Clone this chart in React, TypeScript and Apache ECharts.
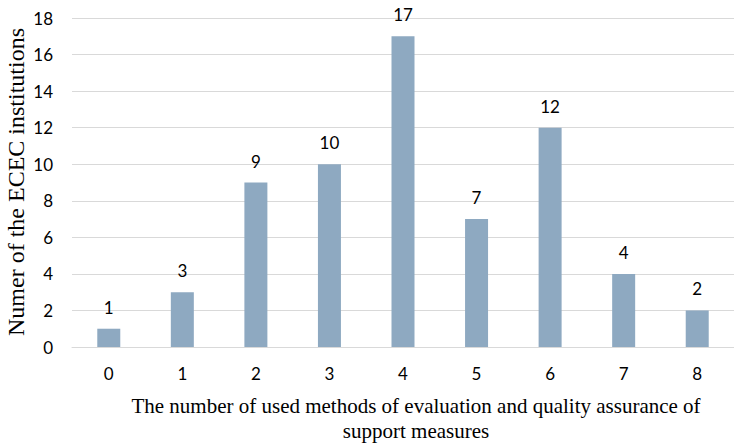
import React, { useEffect, useRef } from "react";
import * as echarts from "echarts";

const categories = ["0", "1", "2", "3", "4", "5", "6", "7", "8"];
const counts = [1, 3, 9, 10, 17, 7, 12, 4, 2];
const xTitleLines = [
  "The number of used methods of evaluation and quality assurance of",
  "support measures",
];
const yTitle = "Numer of the ECEC institutions";

export default function App() {
  const ref = useRef<HTMLDivElement>(null);
  useEffect(() => {
    if (!ref.current) return;
    const chart = echarts.init(ref.current, null, { renderer: "svg" });
    chart.setOption({
      animation: false,
      backgroundColor: "#ffffff",
      grid: { left: 72, top: 18, width: 669, height: 329, containLabel: false },
      xAxis: {
        type: "category",
        data: categories,
        axisLine: { show: true, lineStyle: { color: "#D9D9D9", width: 1 } },
        axisTick: { show: false },
        axisLabel: {
          color: "#000",
          fontFamily: "Lato",
          fontSize: 17,
          margin: 18,
        },
      },
      yAxis: {
        type: "value",
        min: 0,
        max: 18,
        interval: 2,
        axisLine: { show: false },
        axisTick: { show: false },
        axisLabel: {
          color: "#000",
          fontFamily: "Lato",
          fontSize: 17,
          margin: 19,
        },
        splitLine: { lineStyle: { color: "#D9D9D9", width: 1 } },
      },
      series: [
        {
          type: "bar",
          data: counts,
          barWidth: 23,
          itemStyle: { color: "#8EA9C1" },
          label: {
            show: true,
            position: "top",
            distance: 13,
            color: "#000",
            fontFamily: "Lato",
            fontSize: 17,
          },
        },
      ],
      graphic: [
        {
          type: "text",
          x: 416,
          y: 406,
          style: {
            text: xTitleLines[0],
            font: '21px "Liberation Serif"',
            fill: "#000",
            textAlign: "center",
            textVerticalAlign: "middle",
          },
        },
        {
          type: "text",
          x: 416,
          y: 431,
          style: {
            text: xTitleLines[1],
            font: '21px "Liberation Serif"',
            fill: "#000",
            textAlign: "center",
            textVerticalAlign: "middle",
          },
        },
        {
          type: "text",
          x: 16,
          y: 182,
          rotation: Math.PI / 2,
          style: {
            text: yTitle,
            font: '24px "Liberation Serif"',
            fill: "#000",
            textAlign: "center",
            textVerticalAlign: "middle",
          },
        },
      ],
    });
    return () => chart.dispose();
  }, []);
  return (
    <div
      ref={ref}
      style={{ position: "fixed", left: 0, top: 0, width: 734, height: 444 }}
    />
  );
}
